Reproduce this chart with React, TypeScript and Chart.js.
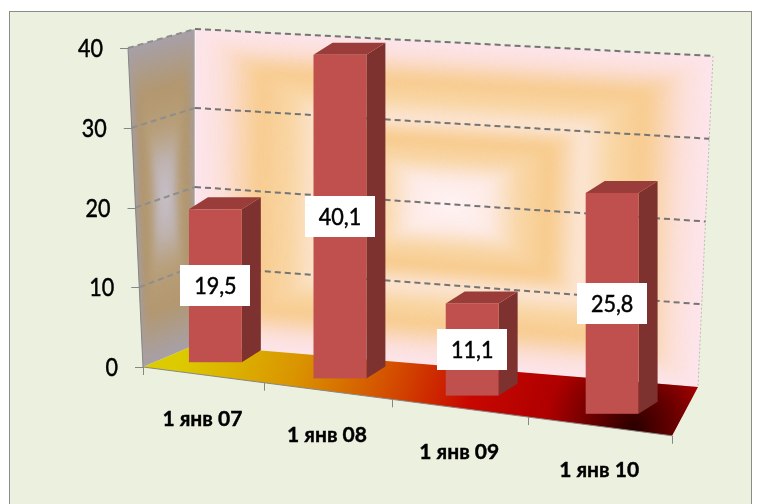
import React, { useEffect, useRef } from "react";
import { Chart, registerables } from "chart.js";

Chart.register(...registerables);

const categories: string[] = ["1 янв 07", "1 янв 08", "1 янв 09", "1 янв 10"];
const values: number[] = [19.5, 40.1, 11.1, 25.8];
const valueLabels: string[] = ["19,5", "40,1", "11,1", "25,8"];
const yTicks: number[] = [0, 10, 20, 30, 40];
const yTickLabels: string[] = ["0", "10", "20", "30", "40"];

type Pt = { x: number; y: number };
type Stop = [number, string];

const hex = (c: string) => [
  parseInt(c.slice(1, 3), 16),
  parseInt(c.slice(3, 5), 16),
  parseInt(c.slice(5, 7), 16),
];
function sample(stops: Stop[], t: number): string {
  if (t <= stops[0][0]) return stops[0][1];
  for (let i = 1; i < stops.length; i++) {
    if (t <= stops[i][0]) {
      const [t0, c0] = stops[i - 1];
      const [t1, c1] = stops[i];
      const f = (t - t0) / (t1 - t0);
      const a = hex(c0);
      const b = hex(c1);
      const m = (k: number) => Math.round(a[k] + (b[k] - a[k]) * f);
      return `rgb(${m(0)},${m(1)},${m(2)})`;
    }
  }
  return stops[stops.length - 1][1];
}
const lp = (a: Pt, b: Pt, t: number): Pt => ({ x: a.x + (b.x - a.x) * t, y: a.y + (b.y - a.y) * t });
const quadAt = (q: Pt[], u: number, v: number): Pt => lp(lp(q[0], q[1], u), lp(q[3], q[2], u), v);
function poly(ctx: CanvasRenderingContext2D, pts: Pt[]) {
  ctx.beginPath();
  ctx.moveTo(pts[0].x, pts[0].y);
  for (let i = 1; i < pts.length; i++) ctx.lineTo(pts[i].x, pts[i].y);
  ctx.closePath();
}
function nested(ctx: CanvasRenderingContext2D, q: Pt[], stops: Stop[], steps: number, blur: number) {
  ctx.save();
  poly(ctx, q);
  ctx.clip();
  ctx.fillStyle = stops[0][1];
  poly(ctx, [quadAt(q, -0.2, -0.2), quadAt(q, 1.2, -0.2), quadAt(q, 1.2, 1.2), quadAt(q, -0.2, 1.2)]);
  ctx.fill();
  ctx.filter = `blur(${blur}px)`;
  for (let i = 1; i < steps; i++) {
    const s = i / steps;
    const t = s * 0.5;
    ctx.fillStyle = sample(stops, s);
    poly(ctx, [quadAt(q, t, t), quadAt(q, 1 - t, t), quadAt(q, 1 - t, 1 - t), quadAt(q, t, 1 - t)]);
    ctx.fill();
  }
  ctx.restore();
}

const backStops: Stop[] = [
  [0, "#FDE5EC"],
  [0.1, "#FCE0D8"],
  [0.24, "#F8CC90"],
  [0.36, "#F9D6A4"],
  [0.48, "#FCE6D6"],
  [0.6, "#F8CB8C"],
  [0.72, "#F9D7A8"],
  [0.84, "#FDEBE6"],
  [1, "#FFF4F6"],
];
const leftStops: Stop[] = [
  [0, "#A8A0A6"],
  [0.3, "#B3986F"],
  [0.55, "#B8A07C"],
  [0.75, "#BFB3B0"],
  [1, "#C8C2CE"],
];

function geom(chart: any) {
  const { left: L, right: R } = chart.chartArea;
  const ys = chart.scales.y;
  const yPix = (v: number) => ys.getPixelForValue(v);
  const f = (v: number) => v / ys.max;
  const FL = (v: number): Pt => ({ x: L - 15 * f(v), y: yPix(v) });
  const BL = (v: number): Pt => ({ x: L + 52, y: yPix(v) - 22 + 3 * f(v) });
  const BR = (v: number): Pt => ({ x: R + 26 + 15 * f(v), y: yPix(v) + 20 - 12 * f(v) });
  const frontY = (x: number) => yPix(0) + 0.13 * (x - L);
  const warp = (x: number) => x + 0.00022 * (x - L) * (x - R);
  return { L, R, yPix, FL, BL, BR, frontY, warp };
}

function text(
  ctx: CanvasRenderingContext2D,
  s: string,
  x: number,
  cy: number,
  size: number,
  bold: boolean,
  sx: number,
  align: CanvasTextAlign
) {
  ctx.save();
  ctx.translate(x, cy + size * 0.36);
  ctx.scale(sx, 1);
  ctx.font = `${bold ? "bold " : ""}${size}px Lato, "Open Sans", sans-serif`;
  ctx.textAlign = align;
  ctx.textBaseline = "alphabetic";
  ctx.fillStyle = "#000000";
  ctx.fillText(s, 0, 0);
  ctx.strokeStyle = "#000000";
  ctx.lineWidth = bold ? 0.4 : 0.5;
  ctx.strokeText(s, 0, 0);
  ctx.restore();
}

const scene = {
  id: "scene3d",
  beforeDraw(chart: any) {
    const ctx: CanvasRenderingContext2D = chart.ctx;
    const g = geom(chart);
    ctx.save();
    ctx.fillStyle = "#ffffff";
    ctx.fillRect(0, 0, chart.width, chart.height);
    ctx.fillStyle = "#EBF1DE";
    ctx.fillRect(9.5, 11.5, 742, 520);
    ctx.strokeStyle = "#8C8C8C";
    ctx.lineWidth = 1;
    ctx.strokeRect(9.5, 11.5, 742, 520);

    const top = yTicks[yTicks.length - 1];
    // walls
    nested(ctx, [g.FL(top), g.BL(top), g.BL(0), g.FL(0)], leftStops, 24, 3);
    nested(ctx, [g.BL(top), g.BR(top), g.BR(0), g.BL(0)], backStops, 36, 5);

    // floor
    const FR0: Pt = { x: g.R, y: g.frontY(g.R) };
    const BL0 = g.BL(0);
    const floor = [g.BL(0), g.BR(0), FR0, g.FL(0)];
    const lg = ctx.createLinearGradient(BL0.x - 5, BL0.y - 20, FR0.x - 90, FR0.y + 15);
    lg.addColorStop(0, "#DCCB00");
    lg.addColorStop(0.28, "#DA9400");
    lg.addColorStop(0.5, "#D45000");
    lg.addColorStop(0.7, "#C80800");
    lg.addColorStop(0.88, "#B00000");
    lg.addColorStop(1, "#C00000");
    poly(ctx, floor);
    ctx.fillStyle = lg;
    ctx.fill();
    ctx.save();
    poly(ctx, floor);
    ctx.clip();
    const rg = ctx.createRadialGradient(FR0.x - 38, FR0.y - 8, 0, FR0.x - 38, FR0.y - 8, 90);
    rg.addColorStop(0, "rgba(25,0,0,0.9)");
    rg.addColorStop(0.5, "rgba(40,0,0,0.55)");
    rg.addColorStop(1, "rgba(40,0,0,0)");
    ctx.fillStyle = rg;
    ctx.fillRect(FR0.x - 160, FR0.y - 110, 220, 130);
    ctx.restore();

    // wall edges
    ctx.strokeStyle = "rgba(255,255,255,0.6)";
    ctx.lineWidth = 1;
    ctx.beginPath();
    ctx.moveTo(g.BL(top).x, g.BL(top).y);
    ctx.lineTo(g.BL(0).x, g.BL(0).y);
    ctx.stroke();
    ctx.strokeStyle = "rgba(140,140,140,0.5)";
    ctx.setLineDash([2, 2]);
    ctx.beginPath();
    ctx.moveTo(g.BR(top).x, g.BR(top).y);
    ctx.lineTo(g.BR(0).x, g.BR(0).y);
    ctx.stroke();
    ctx.setLineDash([]);

    // dashed gridlines
    ctx.lineWidth = 2;
    ctx.setLineDash([6, 4]);
    for (const v of yTicks) {
      if (v === 0) continue;
      const a = g.FL(v), b = g.BL(v), c = g.BR(v);
      ctx.strokeStyle = "#8E8E8E";
      ctx.beginPath();
      ctx.moveTo(a.x, a.y);
      ctx.lineTo(b.x, b.y);
      ctx.stroke();
      ctx.strokeStyle = "#747474";
      ctx.beginPath();
      ctx.moveTo(b.x, b.y);
      ctx.lineTo(c.x, c.y);
      ctx.stroke();
    }
    ctx.setLineDash([]);

    // y axis line + ticks
    ctx.strokeStyle = "#868686";
    ctx.lineWidth = 1;
    ctx.beginPath();
    ctx.moveTo(g.FL(0).x, g.FL(0).y);
    ctx.lineTo(g.FL(top).x, g.FL(top).y);
    ctx.stroke();
    yTicks.forEach((v, i) => {
      const p = g.FL(v);
      ctx.beginPath();
      ctx.moveTo(p.x - 8, Math.round(p.y) + 0.5);
      ctx.lineTo(p.x, Math.round(p.y) + 0.5);
      ctx.stroke();
      text(ctx, yTickLabels[i], p.x - 25, p.y, 25, false, 0.86, "right");
    });

    // floor front edge + category ticks
    ctx.strokeStyle = "#868686";
    ctx.lineWidth = 1;
    ctx.beginPath();
    ctx.moveTo(g.FL(0).x, g.FL(0).y);
    ctx.lineTo(FR0.x, FR0.y);
    ctx.stroke();
    const xs = chart.scales.x;
    const bounds: number[] = [g.L];
    for (let i = 1; i < categories.length; i++)
      bounds.push((xs.getPixelForValue(i - 1) + xs.getPixelForValue(i)) / 2);
    bounds.push(g.R);
    for (const b of bounds) {
      const xw = g.warp(b);
      const y = g.frontY(xw);
      ctx.beginPath();
      ctx.moveTo(Math.round(xw) + 0.5, y);
      ctx.lineTo(Math.round(xw) + 0.5, y + 8);
      ctx.stroke();
    }
    ctx.restore();
  },
  afterDraw(chart: any) {
    const ctx: CanvasRenderingContext2D = chart.ctx;
    const g = geom(chart);
    const meta = chart.getDatasetMeta(0);
    const dx = 19, dy = -12;
    ctx.save();
    meta.data.forEach((el: any, i: number) => {
      const p = el.getProps(["x", "y", "base", "width"], true);
      const xw = g.warp(p.x);
      const frac = (xw - g.L) / (g.R - g.L);
      const cx = xw + 13;
      const bottom = g.frontY(xw) - 12.5;
      const h = (p.base - p.y) * (0.97 + 0.12 * frac);
      const topY = bottom - h;
      const x1 = cx - p.width / 2;
      const x2 = cx + p.width / 2;
      // side
      poly(ctx, [
        { x: x2, y: topY },
        { x: x2 + dx, y: topY + dy },
        { x: x2 + dx, y: bottom + dy },
        { x: x2, y: bottom },
      ]);
      ctx.fillStyle = "#7E3230";
      ctx.fill();
      // top
      poly(ctx, [
        { x: x1, y: topY },
        { x: x1 + dx, y: topY + dy },
        { x: x2 + dx, y: topY + dy },
        { x: x2, y: topY },
      ]);
      ctx.fillStyle = "#9A3C3A";
      ctx.fill();
      // front
      ctx.fillStyle = "#C0504D";
      ctx.fillRect(x1, topY, x2 - x1, bottom - topY);

      // value label
      const my = (topY + bottom) / 2;
      ctx.fillStyle = "#ffffff";
      ctx.fillRect(Math.round(cx - 35), Math.round(my - 20.5), 70, 41);
      text(ctx, valueLabels[i], cx, my, 24, false, 0.9, "center");

      // category label
      text(ctx, categories[i], xw, g.frontY(xw) + 43.4, 21, true, 1, "center");
    });
    ctx.restore();
  },
};

export default function App() {
  const ref = useRef<HTMLCanvasElement | null>(null);
  useEffect(() => {
    if (!ref.current) return;
    const chart = new Chart(ref.current, {
      type: "bar",
      data: {
        labels: categories,
        datasets: [
          {
            data: values,
            backgroundColor: "rgba(0,0,0,0)",
            borderWidth: 0,
            barPercentage: 0.4,
            categoryPercentage: 1,
          },
        ],
      },
      options: {
        responsive: false,
        animation: false,
        events: [],
        layout: { padding: { left: 143, top: 48, right: 88, bottom: 137 } },
        plugins: { legend: { display: false }, tooltip: { enabled: false } },
        scales: {
          x: { display: false },
          y: { display: false, min: 0, max: 40, ticks: { stepSize: 10 } },
        },
      },
      plugins: [scene as any],
    });
    return () => chart.destroy();
  }, []);
  return (
    <div style={{ position: "fixed", left: 0, top: 0, width: 760, height: 504 }}>
      <canvas ref={ref} width={760} height={504} style={{ display: "block" }} />
    </div>
  );
}
